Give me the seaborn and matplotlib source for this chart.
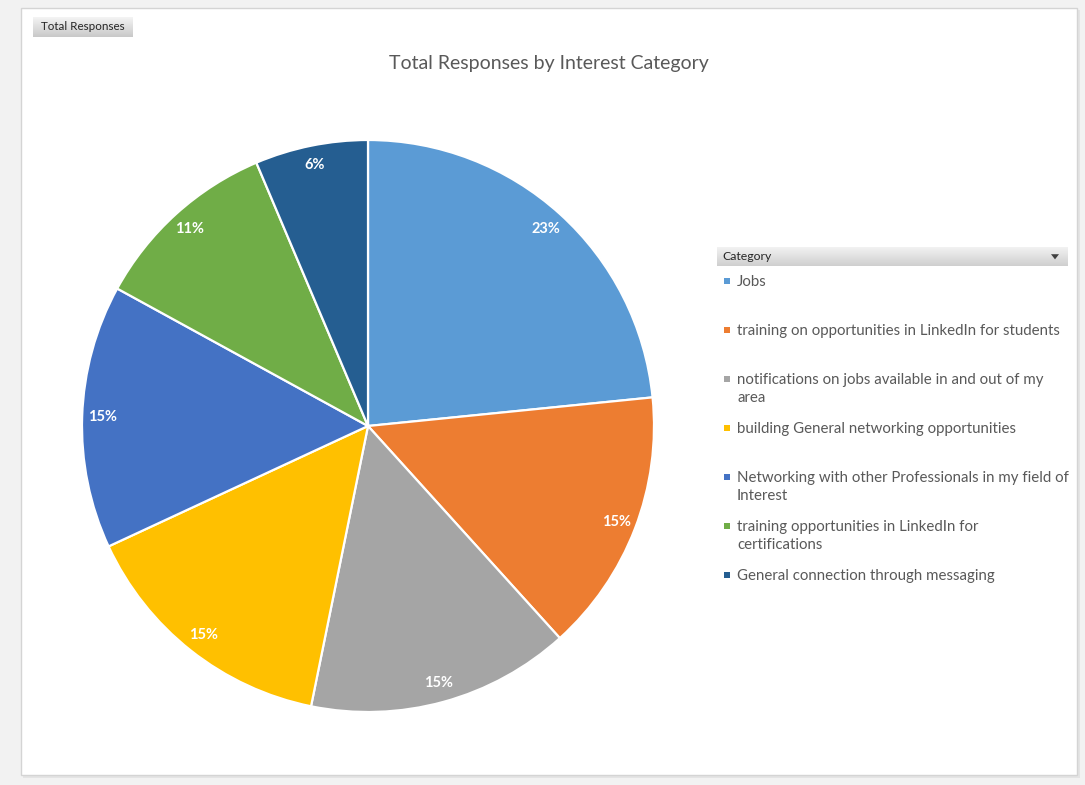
import numpy as np
import matplotlib
matplotlib.use("Agg")
import matplotlib.pyplot as plt
from matplotlib.patches import Rectangle, Polygon
import seaborn as sns

# Survey responses per interest category
categories = [
    "Jobs",
    "training on opportunities in LinkedIn for students",
    "notifications on jobs available in and out of my area",
    "building General networking opportunities",
    "Networking with other Professionals in my field of Interest",
    "training opportunities in LinkedIn for certifications",
    "General connection through messaging",
]
responses = [11, 7, 7, 7, 7, 5, 3]
# legend text, wrapped as in the legend column
legend_labels = [
    "Jobs",
    "training on opportunities in LinkedIn for students",
    "notifications on jobs available in and out of my\narea",
    "building General networking opportunities",
    "Networking with other Professionals in my field of\nInterest",
    "training opportunities in LinkedIn for\ncertifications",
    "General connection through messaging",
]
colors = ["#5B9BD5", "#ED7D31", "#A5A5A5", "#FFC000", "#4472C4", "#70AD47", "#255E91"]

sns.set_theme(style="white")
plt.rcParams["font.family"] = ["Lato", "DejaVu Sans"]
palette = sns.color_palette(colors)

W, H = 1085, 785
fig = plt.figure(figsize=(W / 100, H / 100), dpi=100)
fig.patch.set_facecolor("#f2f2f2")

def fx(px):
    return px / W

def fy(py):
    return 1 - py / H

# chart frame with a soft shadow
fig.patches.append(Rectangle((fx(23), fy(778)), fx(1057), (778 - 10) / H,
                             transform=fig.transFigure, facecolor="#e4e4e4",
                             edgecolor="none", zorder=-2))
fig.patches.append(Rectangle((fx(21), fy(775)), fx(1056), (775 - 8) / H,
                             transform=fig.transFigure, facecolor="white",
                             edgecolor="#d4d4d4", linewidth=1.0, zorder=-1))

# field button in the top-left corner
grad = np.linspace(0, 1, 50).reshape(-1, 1)
btn = fig.add_axes([fx(33), fy(37), fx(100), 20 / H])
btn.set_zorder(3)
btn.imshow(grad, aspect="auto", cmap=matplotlib.colors.LinearSegmentedColormap.from_list(
    "btn", ["#f4f4f4", "#c9c9c9"]), extent=[0, 1, 0, 1], origin="upper")
btn.set_axis_off()
btn.text(0.5, 0.5, "Total Responses", ha="center", va="center", fontsize=8.4,
         color="#262626", transform=btn.transAxes)

# pie
cx, cy, r = 368, 426, 286
half = 292
ax = fig.add_axes([fx(cx - half), fy(cy + half), 2 * half / W, 2 * half / H])
ax.set_zorder(2)
wedges, texts, autotexts = ax.pie(
    responses, colors=palette, startangle=90, counterclock=False,
    autopct=lambda p: f"{p:.0f}%", pctdistance=0.93,
    wedgeprops=dict(edgecolor="white", linewidth=1.6),
    textprops=dict(color="white", fontsize=10.5, fontweight="bold"),
)
lim = half / r
ax.set_xlim(-lim, lim)
ax.set_ylim(-lim, lim)
ax.set_aspect("equal")
ax.set_axis_off()

fig.text(fx(549), fy(64), "Total Responses by Interest Category", ha="center",
         va="center", fontsize=14, color="#595959")

# legend header bar
hdr = fig.add_axes([fx(717), fy(266), fx(351), 19 / H])
hdr.set_zorder(3)
hdr.imshow(grad, aspect="auto", cmap=matplotlib.colors.LinearSegmentedColormap.from_list(
    "hdr", ["#f2f2f2", "#cfcfcf"]), extent=[0, 1, 0, 1], origin="upper")
hdr.set_axis_off()
hdr.text(5 / 351, 0.5, "Category", ha="left", va="center", fontsize=8.8,
         color="#262626", transform=hdr.transAxes)
hdr.add_patch(Polygon([[334 / 351, 0.62], [342 / 351, 0.62], [338 / 351, 0.35]],
                      closed=True, transform=hdr.transAxes, facecolor="#404040",
                      edgecolor="none", zorder=5))

# legend entries
y0, step = 281, 49
for i, (lab, col) in enumerate(zip(legend_labels, palette)):
    y = y0 + i * step
    fig.patches.append(Rectangle((fx(724), fy(y + 3)), fx(6), 6 / H,
                                 transform=fig.transFigure, facecolor=col,
                                 edgecolor="none", zorder=5))
    fig.text(fx(737), fy(y - 6), lab, ha="left", va="top", fontsize=10.8,
             color="#595959", linespacing=1.38)

fig.savefig("out.png", dpi=100)
